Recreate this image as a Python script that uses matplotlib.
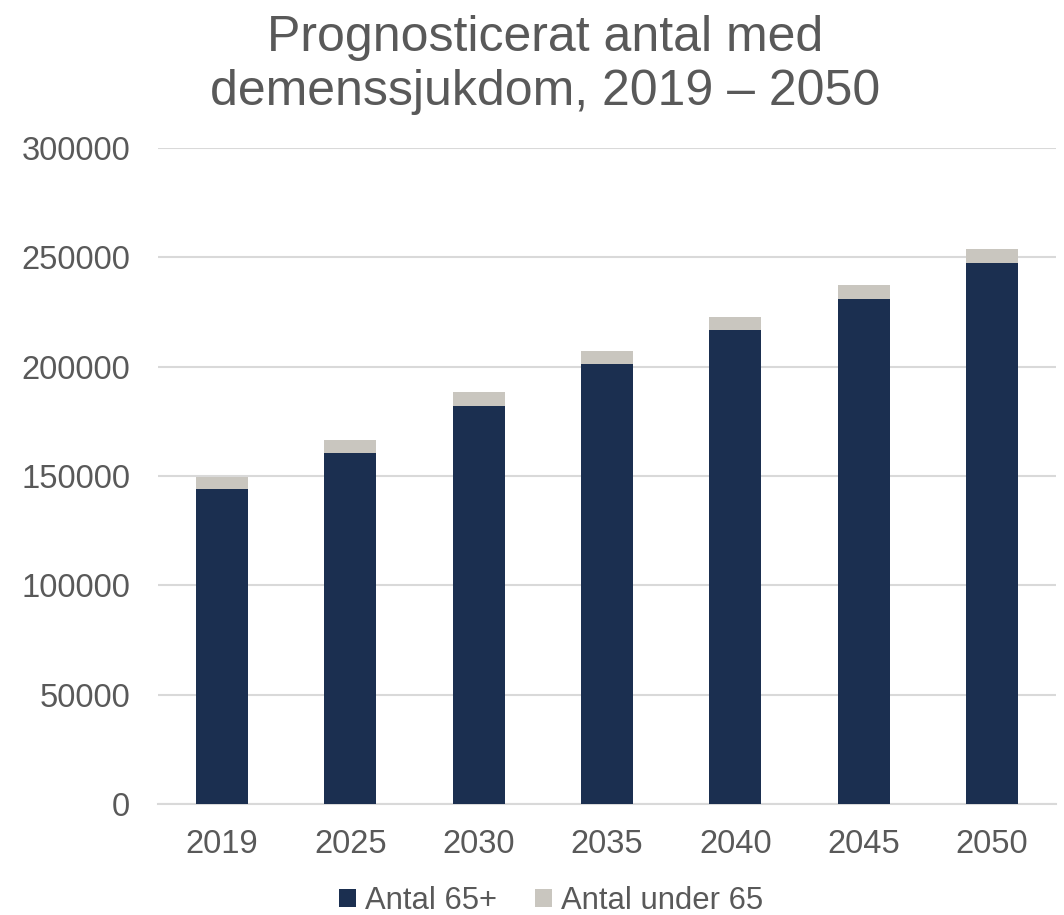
import matplotlib.pyplot as plt
import numpy as np

plt.rcParams['font.family'] = ['Liberation Sans', 'DejaVu Sans']

years = ["2019", "2025", "2030", "2035", "2040", "2045", "2050"]
antal_65_plus = [143900, 160500, 182100, 201200, 216900, 230900, 247200]
antal_under_65 = [5500, 5800, 6200, 6000, 6000, 6400, 6400]

dark = "#1b2f50"
light = "#c9c6bf"
text_col = "#595959"

fig = plt.figure(figsize=(10.64, 9.15), dpi=100)
ax = fig.add_axes([0.1485, 0.1213, 0.844, 0.717])

x = np.arange(len(years))
ax.bar(x, antal_65_plus, width=0.405, color=dark, label="Antal 65+", zorder=3)
ax.bar(x, antal_under_65, width=0.405, bottom=antal_65_plus, color=light,
       label="Antal under 65", zorder=3)

ax.set_xlim(-0.5, len(years) - 0.5)
ax.set_ylim(0, 300000)
ax.set_yticks(range(0, 300001, 50000))
ax.set_xticks(x)
ax.set_xticklabels(years)
ax.tick_params(axis="both", length=0, labelsize=23.5, colors=text_col)
ax.tick_params(axis="y", pad=20)
ax.tick_params(axis="x", pad=18)

ax.grid(axis="y", color="#d9d9d9", linewidth=1.5, zorder=0)
for side in ["top", "right", "left"]:
    ax.spines[side].set_visible(False)
ax.spines["bottom"].set_color("#d9d9d9")
ax.spines["bottom"].set_linewidth(1.5)

fig.text(545 / 1064, 1 - 65 / 915, "Prognosticerat antal med\ndemenssjukdom, 2019 – 2050",
         ha="center", va="center", fontsize=36, color=text_col, linespacing=1.2)

fig.legend(loc="center", bbox_to_anchor=(551 / 1064, 1 - 901 / 915), ncol=2,
           frameon=False, fontsize=22.3, labelcolor=text_col, handlelength=0.55,
           handleheight=0.55, handletextpad=0.3, columnspacing=1.2)

plt.savefig("out.png", dpi=100)
